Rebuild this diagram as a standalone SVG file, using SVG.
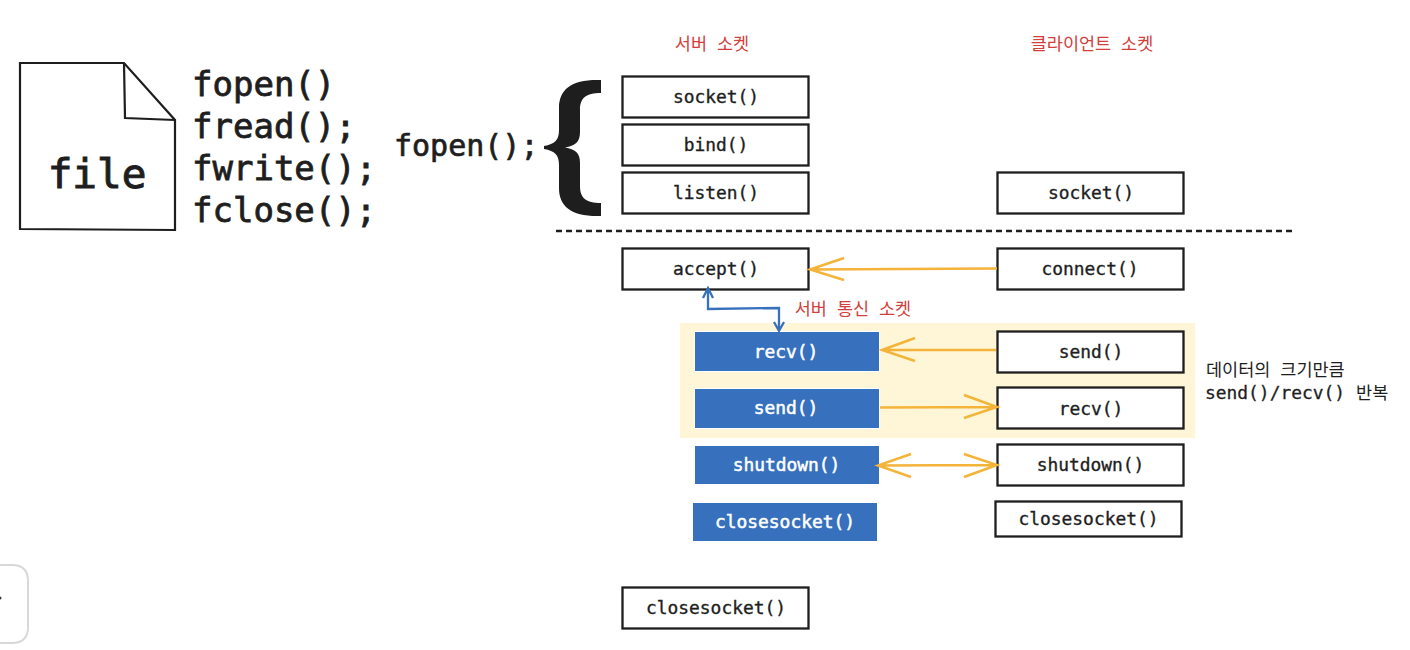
<svg xmlns="http://www.w3.org/2000/svg" width="1410" height="650" viewBox="0 0 1410 650">
<style>
text{font-family:"DejaVu Sans Mono","Noto Sans CJK KR",monospace;fill:#1e1e1e;text-anchor:middle}
.box{fill:#fff;stroke:#1e1e1e;stroke-width:2.300}
.blue{fill:#3770bd;stroke:#fff;stroke-width:1}
.t{font-size:17.900px;stroke:#1e1e1e;stroke-width:.35px}
.w{fill:#fff;stroke:#fff;stroke-width:.5px}
.big{font-size:34px;text-anchor:start;stroke:#1e1e1e;stroke-width:.8px}
.red{font-family:"Noto Sans CJK KR",sans-serif;font-size:17.500px;fill:#d2403c;word-spacing:6px}
.note{font-size:17.900px;text-anchor:start;stroke:#1e1e1e;stroke-width:.3px}
.ko{font-family:"Noto Sans CJK KR",sans-serif;font-size:17.500px;stroke:none;word-spacing:5px;font-weight:400}
.or{fill:none;stroke:#f4b43a;stroke-width:2.500}
.bl{fill:none;stroke:#3770bd;stroke-width:2.300}
</style>
<rect x="680" y="323" width="515" height="115" fill="#fff6d8"/>
<g id="file" fill="none" stroke="#1e1e1e" stroke-width="2.200">
<path d="M20 63L124 63L175 120L175 230L20 229Z" fill="#fff"/>
<path d="M124 63L125 118L175 120"/>
<text x="97" y="188" style="font-size:41px;stroke:#1e1e1e;stroke-width:1px">file</text>
</g>
<g id="file-calls">
<text class="big" x="192" y="96">fopen()</text>
<text class="big" x="192" y="138">fread();</text>
<text class="big" x="192" y="180">fwrite();</text>
<text class="big" x="192" y="222">fclose();</text>
<text x="394" y="156" style="font-size:30px;text-anchor:start;stroke:#1e1e1e;stroke-width:.7px">fopen();</text>
</g>
<path id="brace" fill="#1e1e1e" d="M601 80C572 79 559 89 559 108L559 130C559 140 555 144 544 146L544 149C555 151 559 155 559 165L559 188C559 207 572 217 601 216L601 203C586 203 580 198 580 186L580 163C580 153 575 149 565 147.500C575 146 580 142 580 132L580 110C580 98 586 93 601 93Z"/>
<text class="red" x="712" y="50">서버 소켓</text>
<text class="red" x="1092" y="50">클라이언트 소켓</text>
<text class="red" x="853" y="315">서버 통신 소켓</text>
<path id="divider" d="M556 231L1295 231" fill="none" stroke="#1e1e1e" stroke-width="2.500" stroke-dasharray="6 4"/>
<g id="s-socket"><rect class="box" x="622.500" y="76.500" width="186" height="41"/><text class="t" x="716" y="103">socket()</text></g>
<g id="s-bind"><rect class="box" x="622.500" y="124.500" width="186" height="41"/><text class="t" x="716" y="151">bind()</text></g>
<g id="s-listen"><rect class="box" x="622.500" y="172.500" width="186" height="41"/><text class="t" x="716" y="199">listen()</text></g>
<g id="s-accept"><rect class="box" x="622.500" y="248.500" width="186" height="41"/><text class="t" x="716" y="275">accept()</text></g>
<g id="s-recv"><rect class="blue" x="694.500" y="331.500" width="185" height="40"/><text class="t w" x="786" y="358">recv()</text></g>
<g id="s-send"><rect class="blue" x="694.500" y="388.500" width="185" height="40"/><text class="t w" x="786" y="414">send()</text></g>
<g id="s-shutdown"><rect class="blue" x="694.500" y="445.500" width="185" height="39"/><text class="t w" x="786.500" y="471">shutdown()</text></g>
<g id="s-closesocket"><rect class="blue" x="692.500" y="502.500" width="185" height="39"/><text class="t w" x="785" y="528">closesocket()</text></g>
<g id="s-closesocket2"><rect class="box" x="622.500" y="587.500" width="186" height="41"/><text class="t" x="716" y="614">closesocket()</text></g>
<g id="c-socket"><rect class="box" x="997.500" y="172.500" width="186" height="41"/><text class="t" x="1091" y="199">socket()</text></g>
<g id="c-connect"><rect class="box" x="997.500" y="248.500" width="186" height="41"/><text class="t" x="1090" y="275">connect()</text></g>
<g id="c-send"><rect class="box" x="997.500" y="331.500" width="186" height="41"/><text class="t" x="1091" y="358">send()</text></g>
<g id="c-recv"><rect class="box" x="997.500" y="387.500" width="186" height="41"/><text class="t" x="1091" y="415">recv()</text></g>
<g id="c-shutdown"><rect class="box" x="997.500" y="444.500" width="186" height="41"/><text class="t" x="1090.500" y="471">shutdown()</text></g>
<g id="c-closesocket"><rect class="box" x="995.500" y="501.500" width="186" height="35"/><text class="t" x="1088.500" y="525">closesocket()</text></g>
<g id="note">
<text class="ko" x="1206" y="376" style="text-anchor:start;word-spacing:6px">데이터의 크기만큼</text>
<text class="note" x="1205" y="399">send()/recv()<tspan class="ko" dx="11">반복</tspan></text>
</g>
<g id="connectors">
<path class="or" d="M997 268.500L810 269.500M844 258L810 269.500L844 280"/>
<path class="or" d="M996 350L882 350M915 338L882 350L915 361"/>
<path class="or" d="M880 407.500L997 407M964 395L997 407L964 418"/>
<path class="or" d="M878 465.500L997 465M911 454L878 465.500L911 477M964 454L997 465L964 477"/>
<path class="bl" d="M708 288L708 309L779 308L779 331M703 298L708 288L713 298M774 322L779 331L784 322"/>
</g>
<path id="corner" fill="none" stroke="#d8d8d8" stroke-width="2" d="M0 565L12 565Q28 565 28 581L28 627Q28 643 12 643L0 643"/>
<circle cx="0" cy="598" r="1.500" fill="#333"/>
</svg>
